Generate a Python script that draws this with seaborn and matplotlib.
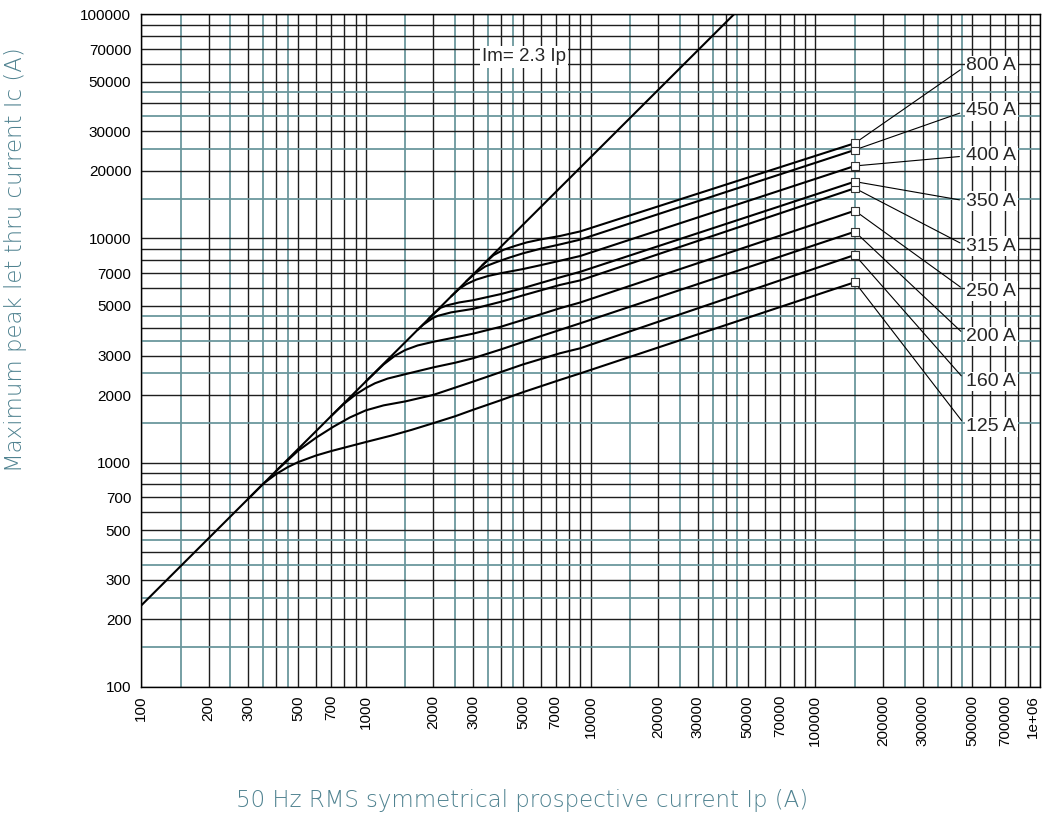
import numpy as np
import pandas as pd
import matplotlib
matplotlib.use('Agg')
import matplotlib.pyplot as plt
import seaborn as sns

# let-through curves (Ip in A, Ic in A)
ratings = ['125 A', '160 A', '200 A', '250 A', '315 A', '350 A', '400 A', '450 A', '800 A']

ip_125 = [300, 350, 400, 450, 500, 600, 700, 800, 1000, 1300, 1600, 2000, 2500, 3000, 4000, 5000, 7300, 9000, 150000]
ic_125 = [690, 805, 890, 955, 1005, 1075, 1125, 1165, 1235, 1320, 1400, 1500, 1610, 1720, 1900, 2060, 2337, 2500, 6380]

ip_160 = [400, 500, 600, 718, 850, 1000, 1200, 1500, 2000, 3000, 5000, 7300, 9000, 150000]
ic_160 = [920, 1130, 1290, 1446, 1590, 1710, 1800, 1875, 2005, 2297, 2740, 3073, 3236, 8440]

ip_200 = [700, 800, 900, 1000, 1100, 1250, 1500, 2000, 2500, 3000, 4000, 5000, 7300, 9000, 150000]
ic_200 = [1610, 1830, 2010, 2150, 2260, 2370, 2480, 2660, 2790, 2920, 3200, 3450, 3906, 4183, 10720]

ip_250 = [1000, 1200, 1350, 1500, 1700, 2000, 2500, 3000, 4000, 5000, 7300, 9000, 150000]
ic_250 = [2300, 2740, 3000, 3180, 3330, 3460, 3620, 3760, 4040, 4330, 4881, 5180, 13300]

ip_315 = [1700, 1800, 1900, 2000, 2100, 2400, 3000, 4000, 5000, 7300, 9000, 150000]
ic_315 = [3910, 4120, 4280, 4430, 4520, 4680, 4850, 5220, 5570, 6200, 6500, 16750]

ip_350 = [1900, 2000, 2150, 2300, 2600, 3000, 4000, 5000, 7300, 9000, 150000]
ic_350 = [4370, 4600, 4900, 5030, 5180, 5300, 5650, 6000, 6700, 7100, 17930]

ip_400 = [2400, 2600, 2800, 3100, 3500, 4000, 5000, 6000, 7300, 9000, 150000]
ic_400 = [5520, 5950, 6250, 6550, 6800, 7000, 7300, 7600, 7950, 8350, 21060]

ip_450 = [2800, 3100, 3400, 3800, 4300, 5000, 6000, 7300, 9000, 150000]
ic_450 = [6440, 7050, 7500, 7830, 8180, 8580, 9000, 9400, 9880, 24830]

ip_800 = [3300, 3700, 4100, 4600, 5200, 6000, 7300, 9000, 150000]
ic_800 = [7590, 8420, 8900, 9250, 9600, 9900, 10250, 10750, 26600]

# Im = 2.3 Ip limit line
ip_line = [100, 50000]
ic_line = [230, 115000]

x_ticks = [100, 200, 300, 500, 700, 1000, 2000, 3000, 5000, 7000, 10000, 20000, 30000,
           50000, 70000, 100000, 200000, 300000, 500000, 700000, 1000000]
y_ticks = [100, 200, 300, 500, 700, 1000, 2000, 3000, 5000, 7000, 10000, 20000, 30000,
           50000, 70000, 100000]

curves = [(ip_125, ic_125), (ip_160, ic_160), (ip_200, ic_200), (ip_250, ic_250),
          (ip_315, ic_315), (ip_350, ic_350), (ip_400, ic_400), (ip_450, ic_450),
          (ip_800, ic_800)]
rows = []
for name, (xs, ys) in zip(ratings, curves):
    for xv, yv in zip(xs, ys):
        rows.append({'rating': name, 'ip': xv, 'ic': yv})
df = pd.DataFrame(rows)
ends = df.groupby('rating', sort=False).tail(1)

sns.set_style('white')
plt.rcParams['font.family'] = ['Liberation Sans', 'DejaVu Sans']

fig = plt.figure(figsize=(10.44, 8.26), dpi=100)
ax = fig.add_axes([0.1351, 0.1686, 0.8611, 0.8141])
ax.set_xscale('log')
ax.set_yscale('log')

# black grid on 1..9, teal grid on 1.5, 2.5, 3.5, 4.5
decades = [100, 1000, 10000, 100000]
major_x = [m * d for d in decades for m in range(1, 10)] + [1e6]
major_y = [m * d for d in decades[:3] for m in range(1, 10)] + [1e5]
minor_x = [m * d for d in decades for m in (1.5, 2.5, 3.5, 4.5)]
minor_y = [m * d for d in decades[:3] for m in (1.5, 2.5, 3.5, 4.5)]

def fmt(v, ticks):
    if v >= 1e6:
        return '1e+06'
    if any(abs(v - t) < 1e-6 * t for t in ticks):
        return '%d' % round(v)
    return ''

ax.set_xticks(major_x)
ax.set_xticklabels([fmt(v, x_ticks) for v in major_x], rotation=90)
ax.set_yticks(major_y)
ax.set_yticklabels([fmt(v, y_ticks) for v in major_y])
ax.set_xticks(minor_x, minor=True)
ax.set_yticks(minor_y, minor=True)
ax.xaxis.set_minor_formatter(plt.NullFormatter())
ax.yaxis.set_minor_formatter(plt.NullFormatter())
ax.get_xticklabels()[-1].set_horizontalalignment('right')
ax.set_xlim(100, 1e6)
ax.set_ylim(100, 1e5)

ax.grid(which='major', color='#1e1e1e', lw=1.0)
ax.grid(which='minor', color='#6b979d', lw=1.3)
ax.set_axisbelow(True)
ax.tick_params(which='both', length=0, labelsize=11, colors='black')
ax.tick_params(axis='x', pad=6)
ax.tick_params(axis='y', pad=7)
for s in ax.spines.values():
    s.set_color('black')
    s.set_linewidth(1.0)

sns.lineplot(data=pd.DataFrame({'ip': ip_line, 'ic': ic_line}), x='ip', y='ic',
             color='black', lw=1.5, ax=ax)
sns.lineplot(data=df, x='ip', y='ic', units='rating', estimator=None, sort=False,
             color='black', lw=1.5, ax=ax)
ax.scatter(ends['ip'], ends['ic'], marker='s', s=30, facecolors='white',
           edgecolors='#333333', linewidths=0.8, zorder=4)

ax.text(5050, 64500, 'Im= 2.3 Ip', ha='center', va='center', fontsize=13.5,
        bbox=dict(facecolor='white', edgecolor='none', pad=1.5))

# labels on the right, top to bottom
order = ['800 A', '450 A', '400 A', '350 A', '315 A', '250 A', '200 A', '160 A', '125 A']
label_y = np.linspace(0.9236, 0.3867, len(order))
for name, ly in zip(order, label_y):
    row = ends[ends['rating'] == name].iloc[0]
    ax.annotate(name, xy=(row['ip'], row['ic']), xycoords='data',
                xytext=(0.918, ly), textcoords='axes fraction', ha='left', va='center',
                fontsize=14, bbox=dict(facecolor='white', edgecolor='none', pad=1),
                arrowprops=dict(arrowstyle='-', lw=0.8, color='black', relpos=(0, 0.5),
                                shrinkA=4, shrinkB=3))

ax.set_xlabel('')
ax.set_ylabel('')
lab_col = '#4f8290'
fig.text(0.5, 0.031, '50 Hz RMS symmetrical prospective current Ip (A)', ha='center',
         va='center', fontsize=16.5, color=lab_col, family='DejaVu Sans', weight='light')
fig.text(0.015, 0.686, 'Maximum peak let thru current Ic (A)', ha='center', va='center',
         rotation=90, fontsize=16.5, color=lab_col, family='DejaVu Sans', weight='light')

fig.savefig('out.png', dpi=100, facecolor='white')
